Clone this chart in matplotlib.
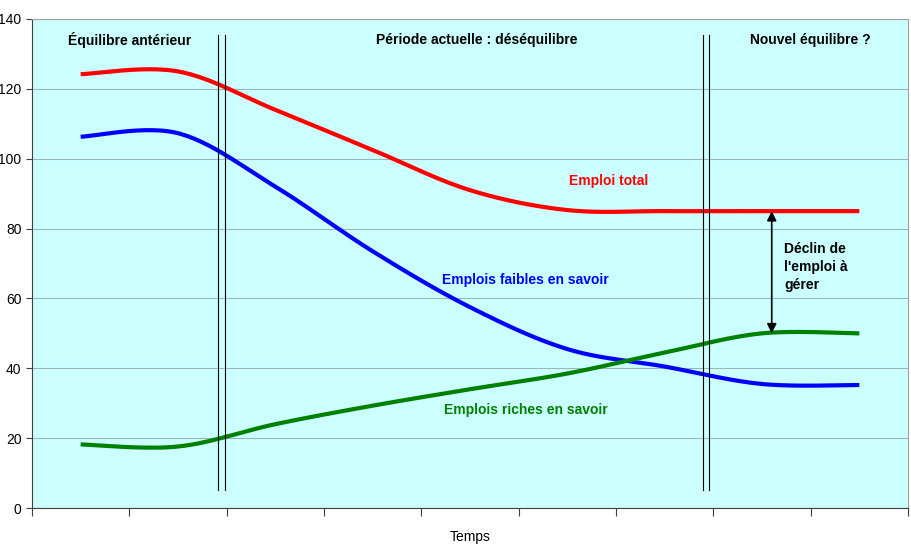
import numpy as np
import matplotlib
matplotlib.use("Agg")
import matplotlib.pyplot as plt

plt.rcParams["font.family"] = ["Liberation Sans", "DejaVu Sans"]

# valeurs (9 périodes)
periodes = np.arange(9)
emploi_total = [124.2, 125.0, 114.0, 102.5, 91.0, 85.3, 85.0, 85.0, 85.0]
emplois_faibles = [106.3, 107.3, 92.0, 73.5, 57.5, 45.5, 40.5, 35.5, 35.2]
emplois_riches = [18.2, 17.6, 24.0, 29.3, 34.0, 38.5, 44.5, 50.0, 50.0]

y_ticks = [0, 20, 40, 60, 80, 100, 120, 140]
separations = [(1.41, 1.48), (6.39, 6.46)]


def lisser(x, y, n=30):
    # courbe lissée type Excel (Bezier, tangentes Catmull-Rom)
    x = np.asarray(x, float)
    y = np.asarray(y, float)
    p = np.column_stack([x, y])
    p = np.vstack([p[0], p, p[-1]])
    out = []
    t = np.linspace(0, 1, n)[:, None]
    for i in range(1, len(p) - 2):
        p0, p1, p2, p3 = p[i - 1], p[i], p[i + 1], p[i + 2]
        c1 = p1 + (p2 - p0) / 6
        c2 = p2 - (p3 - p1) / 6
        seg = ((1 - t) ** 3) * p1 + 3 * ((1 - t) ** 2) * t * c1 + 3 * (1 - t) * t ** 2 * c2 + t ** 3 * p2
        out.append(seg)
    out = np.vstack(out)
    return out[:, 0], out[:, 1]


fig = plt.figure(figsize=(9.11, 5.45), dpi=100)
ax = fig.add_axes([32 / 911, 1 - 508 / 545, 876 / 911, 489 / 545])
ax.set_facecolor("#CCFFFF")

for serie, couleur in [(emploi_total, "#FF0000"), (emplois_faibles, "#0000FF"), (emplois_riches, "#008000")]:
    xs, ys = lisser(periodes, serie)
    ax.plot(xs, ys, color=couleur, lw=3.0, solid_capstyle="butt", zorder=3)

for a, b in separations:
    for xv in (a, b):
        ax.plot([xv, xv], [5.2, 135.4], color="black", lw=0.8, zorder=4)

ax.annotate("", xy=(7.1, emploi_total[7]), xytext=(7.1, emplois_riches[7]),
            arrowprops=dict(arrowstyle="<|-|>", color="black", lw=1.2,
                            mutation_scale=14, shrinkA=0, shrinkB=0), zorder=5)

ax.set_xlim(-0.5, 8.5)
ax.set_ylim(0, 140)
ax.set_yticks(y_ticks)
ax.set_xticks(np.arange(-0.5, 9, 1))
ax.set_xticklabels([])
ax.grid(axis="y", color="#9AB8B8", lw=0.8)
ax.set_axisbelow(True)
ax.tick_params(axis="y", labelsize=10, length=4, color="#404040")
ax.tick_params(axis="x", length=6, color="#404040")
for s in ["top", "right"]:
    ax.spines[s].set_color("#A0A0A0")
for s in ["left", "bottom"]:
    ax.spines[s].set_color("#404040")
ax.set_xlabel("Temps", fontsize=10, labelpad=6)

kw = dict(fontsize=10, fontweight="bold", ha="center", va="center")
ax.text(0.5, 134, "Équilibre antérieur", color="black", **kw)
ax.text(4.07, 134, "Période actuelle : déséquilibre", color="black", **kw)
ax.text(7.5, 134, "Nouvel équilibre ?", color="black", **kw)
ax.text(5.42, 93.6, "Emploi total", color="#FF0000", **kw)
ax.text(4.57, 65.3, "Emplois faibles en savoir", color="#0000FF", **kw)
ax.text(4.57, 28.0, "Emplois riches en savoir", color="#008000", **kw)
ax.text(7.23, 69, "Déclin de\nl'emploi à\ngérer", color="black", fontsize=10,
        fontweight="bold", ha="left", va="center", linespacing=1.4)

fig.savefig("out.png", dpi=100)
